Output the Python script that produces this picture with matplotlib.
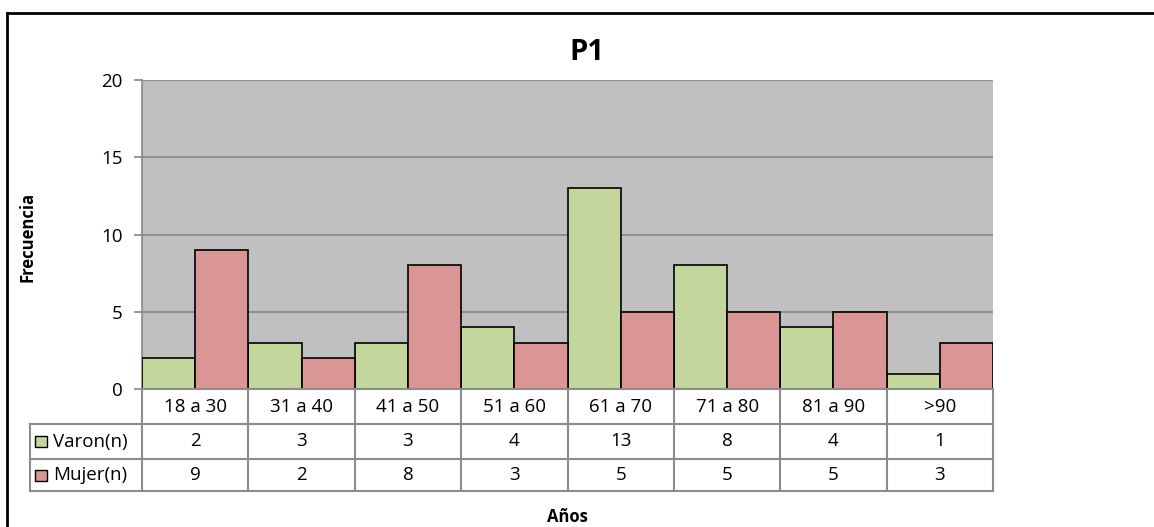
import numpy as np
import matplotlib.pyplot as plt
from matplotlib.patches import Rectangle
from matplotlib.lines import Line2D

categories = ['18 a 30', '31 a 40', '41 a 50', '51 a 60', '61 a 70', '71 a 80', '81 a 90', '>90']
varon = [2, 3, 3, 4, 13, 8, 4, 1]
mujer = [9, 2, 8, 3, 5, 5, 5, 3]
series_names = ['Varon(n)', 'Mujer(n)']
yticks = [0, 5, 10, 15, 20]

green = '#C3D69B'
red = '#D99694'
gridc = '#868686'
linec = '#8C8C8C'

plt.rcParams['font.family'] = ['Open Sans', 'DejaVu Sans']

W, H = 1154, 527
fig = plt.figure(figsize=(W / 100, H / 100), dpi=100)

def fx(px):
    return px / W

def fy(py):
    return 1 - py / H

# plot area in pixels
L, R, T, B = 142, 993, 80, 389
ax = fig.add_axes([fx(L), fy(B), fx(R) - fx(L), fy(T) - fy(B)])
ax.set_facecolor('#C0C0C0')

x = np.arange(len(categories))
ax.bar(x - 0.25, varon, width=0.5, color=green, edgecolor='black', linewidth=1.2, zorder=3)
ax.bar(x + 0.25, mujer, width=0.5, color=red, edgecolor='black', linewidth=1.2, zorder=3)

ax.set_xlim(-0.5, len(categories) - 0.5)
ax.set_ylim(0, 20)
ax.set_yticks(yticks)
ax.set_yticklabels([str(t) for t in yticks], fontsize=13.5)
ax.set_xticks([])
ax.yaxis.grid(True, color=gridc, linewidth=1.2, zorder=0)
ax.tick_params(axis='y', length=6, color=gridc, width=1.2, pad=8)
for s in ['top', 'right', 'bottom']:
    ax.spines[s].set_visible(False)
ax.spines['left'].set_color(gridc)
ax.spines['left'].set_linewidth(1.2)

# data table below the axis
rows_y = [389, 424, 459, 491]
left_col = 30
colw = (R - L) / len(categories)
tfs = 13.5

def hline(x0, x1, y):
    fig.add_artist(Line2D([fx(x0), fx(x1)], [fy(y), fy(y)], color=linec, linewidth=1.5))

def vline(x0, y0, y1):
    fig.add_artist(Line2D([fx(x0), fx(x0)], [fy(y0), fy(y1)], color=linec, linewidth=1.5))

hline(L, R, rows_y[0])
hline(left_col, R, rows_y[1])
hline(left_col, R, rows_y[2])
hline(left_col, R, rows_y[3])
vline(left_col, rows_y[1], rows_y[3])
for i in range(len(categories) + 1):
    vline(L + i * colw, rows_y[0], rows_y[3])

for i, c in enumerate(categories):
    cx = L + (i + 0.5) * colw
    fig.text(fx(cx), fy((rows_y[0] + rows_y[1]) / 2), c, ha='center', va='center', fontsize=tfs)
    fig.text(fx(cx), fy((rows_y[1] + rows_y[2]) / 2), str(varon[i]), ha='center', va='center', fontsize=tfs)
    fig.text(fx(cx), fy((rows_y[2] + rows_y[3]) / 2), str(mujer[i]), ha='center', va='center', fontsize=tfs)

for j, (name, col) in enumerate(zip(series_names, [green, red])):
    yc = (rows_y[j + 1] + rows_y[j + 2]) / 2
    fig.add_artist(Rectangle((fx(35), fy(yc + 5.5)), fx(12), 11 / H, facecolor=col,
                             edgecolor='black', linewidth=1.0))
    fig.text(fx(53), fy(yc), name, ha='left', va='center', fontsize=tfs)

# titles
fig.text(fx(587), fy(52), 'P1', ha='center', va='center', fontsize=21, fontweight='bold')
fig.text(fx(27), fy(237), 'Frecuencia', ha='center', va='center', rotation=90,
         fontsize=12, fontweight='bold')
fig.text(fx(567), fy(517), 'Años', ha='center', va='center', fontsize=12, fontweight='bold')

# outer chart border (extends past the right/bottom edge)
fig.add_artist(Line2D([fx(7), 1.01], [fy(13), fy(13)], color='black', linewidth=2))
fig.add_artist(Line2D([fx(7), fx(7)], [fy(13), -0.01], color='black', linewidth=2))

fig.savefig('out.png', dpi=100)
